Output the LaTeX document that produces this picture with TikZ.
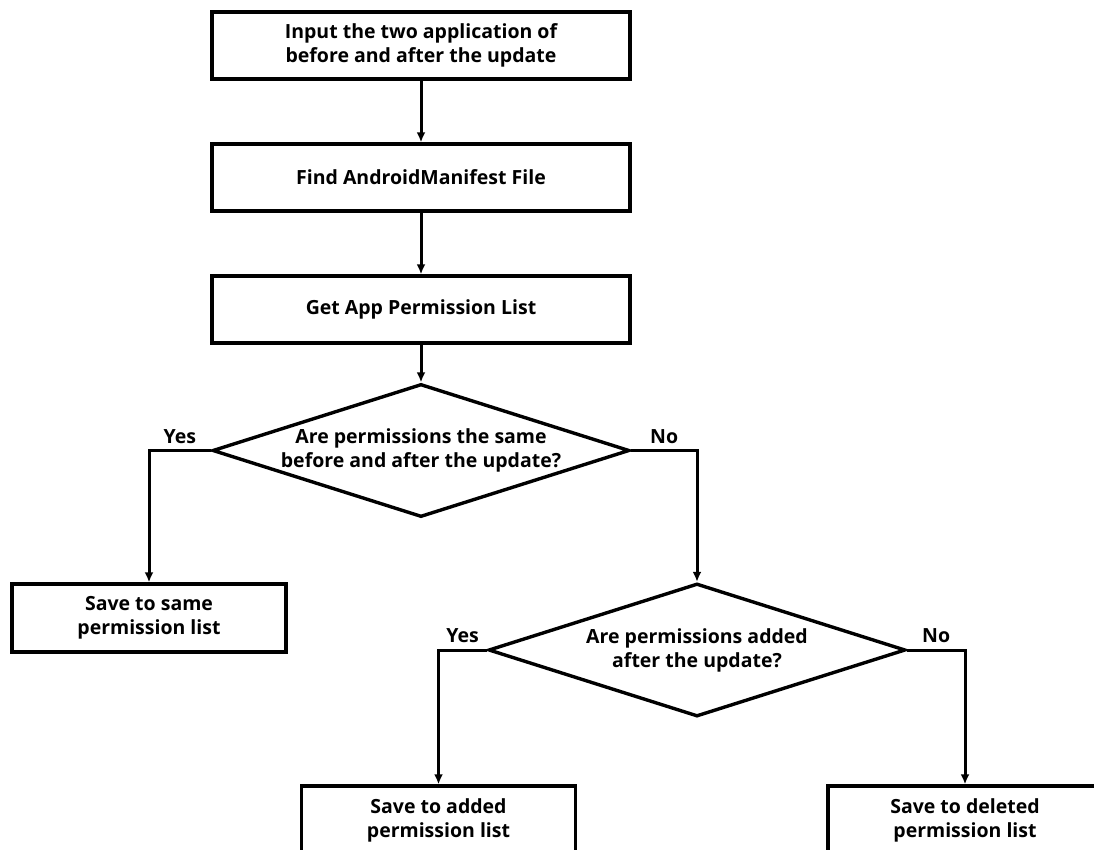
\documentclass[tikz,border=0pt]{standalone}
\usepackage{fontspec}
\setmainfont{Open Sans}
\usetikzlibrary{arrows.meta,shapes.geometric}

\begin{document}
\begin{tikzpicture}[x=1pt, y=-1pt, line width=3.4pt,
		txt/.style={font=\bfseries\fontsize{19.5}{24}\selectfont, align=center},
		stepbox/.style={txt, draw, rectangle, minimum width=418pt, minimum height=67pt, inner sep=0},
		savebox/.style={txt, draw, rectangle, minimum width=274pt, minimum height=68pt, inner sep=0},
		choice/.style={txt, draw, diamond, shape aspect=3.13, minimum width=417pt, minimum height=133pt, inner sep=0},
		flow/.style={-{Latex[length=10pt,width=9pt]}, line width=3pt},
		answer/.style={txt, above=2pt, pos=0.25}]
		\useasboundingbox (0,0) rectangle (1094,849);
		\clip (0,0) rectangle (1094,849);
		\node[stepbox] (input) at (421,45.5) {Input the two application of\\before and after the update};
		\node[stepbox] (manifest) at (421,177.5) {Find AndroidManifest File};
		\node[stepbox] (getlist) at (421,309.5) {Get App Permission List};
		\node[choice] (same) at (421,450.5) {Are permissions the same\\before and after the update?};
		\node[savebox] (samelist) at (149,618) {Save to same\\permission list};
		\node[choice] (added) at (697,650) {Are permissions added\\after the update?};
		\node[savebox] (addedlist) at (438.5,820) {Save to added\\permission list};
		\node[savebox] (deletedlist) at (965,820) {Save to deleted\\permission list};
		\draw[flow] (input) -- (manifest);
		\draw[flow] (manifest) -- (getlist);
		\draw[flow] (getlist) -- (same);
		\draw[flow] (same.west) -| node[answer] {Yes} (samelist.north);
		\draw[flow] (same.east) -| node[answer] {No} (added.north);
		\draw[flow] (added.west) -| node[answer] {Yes} (addedlist.north);
		\draw[flow] (added.east) -| node[answer] {No} (deletedlist.north);
	\end{tikzpicture}
\end{document}
